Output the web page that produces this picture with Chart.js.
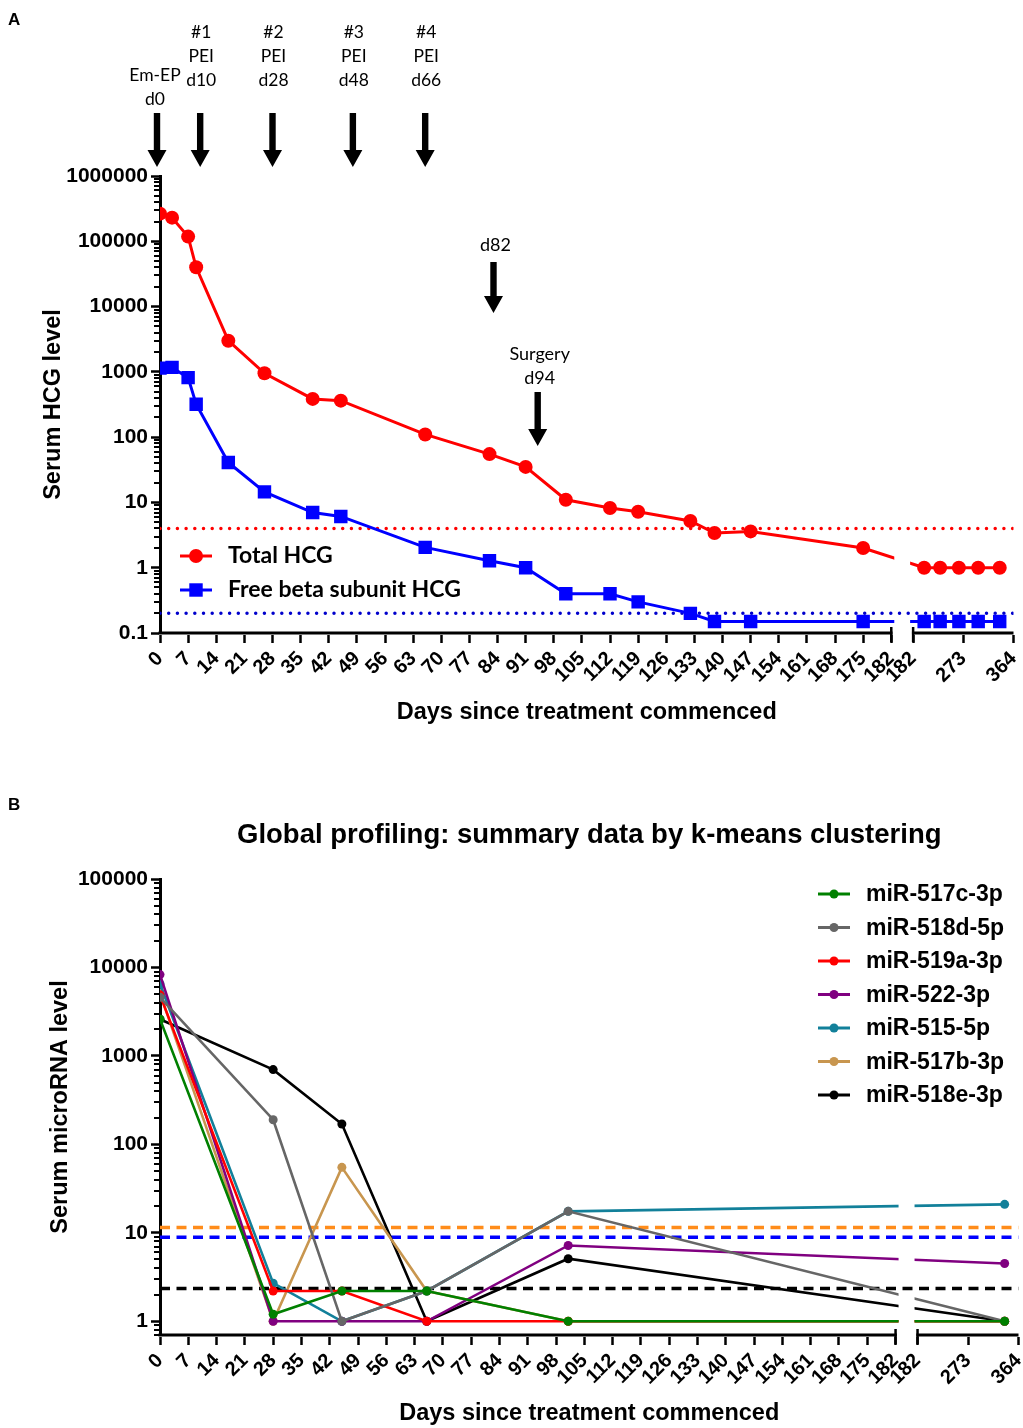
<!DOCTYPE html>
<html><head><meta charset="utf-8">
<script src="https://cdn.jsdelivr.net/npm/chart.js@4.4.1/dist/chart.umd.min.js"></script>
<style>
html,body{margin:0;padding:0;background:#fff;}
#wrap{position:relative;width:1023px;height:1428px;overflow:hidden;background:#fff;}
canvas{position:absolute;left:0;}
#cA{top:0;} #cB{top:740px;}
</style></head><body>
<div id="wrap"><canvas id="cA" width="1023" height="740"></canvas><canvas id="cB" width="1023" height="688"></canvas></div>
<script>
// ---------- DATA ----------
const daysA = [0, 3, 7, 9, 17, 26, 38, 45, 66, 82, 91, 101, 112, 119, 132, 138, 147, 175, 202, 231, 265, 300, 339];
const totalHCG = [265000, 230000, 118000, 40000, 3000, 950, 385, 362, 110, 55, 35, 11, 8.2, 7.2, 5.2, 3.4, 3.6, 2.0, 1, 1, 1, 1, 1];
const freeBetaHCG = [1140, 1170, 815, 320, 41, 14.5, 7.0, 6.1, 2.05, 1.28, 1.0, 0.4, 0.4, 0.3, 0.2, 0.15, 0.15, 0.15, 0.15, 0.15, 0.15, 0.15, 0.15];
const seriesNamesA = ['Total HCG', 'Free beta subunit HCG'];
const thresholdsA = [4, 0.2];

const topEventDays = [0, 10, 28, 48, 66];
const topEventLabels = [['Em-EP', 'd0'], ['#1', 'PEI', 'd10'], ['#2', 'PEI', 'd28'], ['#3', 'PEI', 'd48'], ['#4', 'PEI', 'd66']];
const innerEventDays = [83, 94];
const innerEventLabels = [['d82'], ['Surgery', 'd94']];

const daysB = [0, 28, 45, 66, 101, 339];
const seriesNamesB = ['miR-517c-3p', 'miR-518d-5p', 'miR-519a-3p', 'miR-522-3p', 'miR-515-5p', 'miR-517b-3p', 'miR-518e-3p'];
const mir517c3p = [2600, 1.2, 2.2, 2.2, 1, 1];
const mir518d5p = [4600, 190, 1, 2.2, 17.5, 1];
const mir519a3p = [4900, 2.2, 2.2, 1, 1, 1];
const mir5223p  = [8300, 1, 1, 1, 7.2, 4.5];
const mir5155p  = [6500, 2.7, 1, 2.2, 17.5, 21];
const mir517b3p = [5100, 1, 55, 2.2, 1, 1];
const mir518e3p = [2600, 700, 170, 1, 5.1, 1];
const thresholdsB = [11.5, 8.9, 2.35];

const xTicksSeg1 = [0, 7, 14, 21, 28, 35, 42, 49, 56, 63, 70, 77, 84, 91, 98, 105, 112, 119, 126, 133, 140, 147, 154, 161, 168, 175, 182];
const xTicksSeg2 = [182, 273, 364];
const xBreakAt = 182;
const yTicksA = [0.1, 1, 10, 100, 1000, 10000, 100000, 1000000];
const yTicksB = [1, 10, 100, 1000, 10000, 100000];

// ---------- STYLE / LAYOUT ----------
const SEG1_END = 0.8568, SEG2_START = 0.8824, GAP_PAD = 3;
const SANS = "'Liberation Sans', Arial, sans-serif";
const HUMAN = "Lato, 'Open Sans', sans-serif";
Chart.defaults.font.family = SANS;
Chart.defaults.color = '#000';

class BrokenLinearScale extends Chart.LinearScale {
  buildTicks() {
    const t = xTicksSeg1.map(v => ({value: v}));
    xTicksSeg2.forEach(v => t.push({value: v, seg2: true}));
    return t;
  }
  _px(value, seg2) {
    if (!seg2 && value <= xBreakAt) {
      return this.left + this.width * SEG1_END * (value - this.min) / (xBreakAt - this.min);
    }
    return this.left + this.width * (SEG2_START + (1 - SEG2_START) * (value - xBreakAt) / (this.max - xBreakAt));
  }
  getPixelForValue(value) { return this._px(value, false); }
  getPixelForTick(index) { const t = this.ticks[index]; return t ? this._px(t.value, !!t.seg2) : this.left; }
  getValueForPixel(px) {
    const f = (px - this.left) / this.width;
    if (f <= SEG1_END) return this.min + f / SEG1_END * (xBreakAt - this.min);
    return xBreakAt + (f - SEG2_START) / (1 - SEG2_START) * (this.max - xBreakAt);
  }
  drawBorder() {
    const ctx = this.ctx;
    const y = this.top;
    const x0 = this.left - 1.5, x1 = this.left + this.width * SEG1_END, x2 = this.left + this.width * SEG2_START, x3 = this.right;
    ctx.save();
    ctx.strokeStyle = '#000';
    ctx.lineWidth = 3;
    ctx.beginPath();
    ctx.moveTo(x0, y); ctx.lineTo(x1 + 1.2, y);
    ctx.moveTo(x2 - 1.2, y); ctx.lineTo(x3, y);
    ctx.stroke();
    ctx.lineWidth = 2.5;
    ctx.beginPath();
    ctx.moveTo(x1, y - 6); ctx.lineTo(x1, y + 9);
    ctx.moveTo(x2, y - 6); ctx.lineTo(x2, y + 9);
    ctx.stroke();
    ctx.restore();
  }
}
BrokenLinearScale.id = 'brokenLinear';
BrokenLinearScale.defaults = {};
Chart.register(BrokenLinearScale);

const pts = (xs, ys) => xs.map((x, i) => ({x: x, y: ys[i]}));

const gapClipPlugin = {
  id: 'gapClip',
  beforeDatasetDraw(chart, args) {
    const ds = chart.data.datasets[args.index];
    if (!ds.gapClip) return;
    const xs = chart.scales.x, ctx = chart.ctx;
    const g0 = xs.left + xs.width * SEG1_END + GAP_PAD;
    const g1 = xs.left + xs.width * SEG2_START - GAP_PAD;
    ctx.save();
    ctx.beginPath();
    ctx.rect(0, 0, g0, chart.height);
    ctx.rect(g1, 0, chart.width - g1, chart.height);
    ctx.clip();
  },
  afterDatasetDraw(chart, args) {
    if (chart.data.datasets[args.index].gapClip) chart.ctx.restore();
  }
};

const minorTicksPlugin = {
  id: 'minorTicks',
  afterDraw(chart) {
    const ys = chart.scales.y, ctx = chart.ctx;
    const x = ys.right;
    ctx.save();
    ctx.strokeStyle = '#000';
    ctx.lineWidth = 2;
    ctx.beginPath();
    for (let e = Math.floor(Math.log10(ys.min)); e < Math.log10(ys.max); e++) {
      for (let k = 2; k <= 9; k++) {
        const v = k * Math.pow(10, e);
        if (v < ys.min || v > ys.max) continue;
        const p = Math.round(ys.getPixelForValue(v));
        ctx.moveTo(x - 6, p); ctx.lineTo(x - 1, p);
      }
    }
    ctx.stroke();
    ctx.restore();
  }
};

function drawArrow(ctx, x, yTop, yTip) {
  const headLen = 17, headHalf = 9.5, shaftHalf = 3.2;
  ctx.beginPath();
  ctx.rect(x - shaftHalf, yTop, shaftHalf * 2, yTip - headLen - yTop + 1);
  ctx.moveTo(x - headHalf, yTip - headLen);
  ctx.lineTo(x + headHalf, yTip - headLen);
  ctx.lineTo(x, yTip);
  ctx.closePath();
  ctx.fill();
}

function xScaleOpts(height, titlePadBottom) {
  return {
    type: 'brokenLinear', position: 'bottom', min: 0, max: 364,
    grid: {drawOnChartArea: false, drawTicks: true, tickLength: 10, tickWidth: 2.5, tickColor: '#000'},
    border: {display: true, width: 3, color: '#000'},
    ticks: {autoSkip: false, maxRotation: 45, minRotation: 45, padding: 4, color: '#000',
            font: {size: 20, weight: 'bold'}, callback: (v) => String(v)},
    title: {display: true, text: 'Days since treatment commenced', color: '#000',
            font: {size: 23.5, weight: 'bold'}, padding: {top: 0, bottom: titlePadBottom}},
    afterFit: (s) => { s.height = height; s.paddingLeft = 0; s.paddingRight = 0; }
  };
}
function yScaleOpts(min, max, tickVals, title, titleSize, titlePadTop) {
  return {
    type: 'logarithmic', position: 'left', min: min, max: max,
    afterBuildTicks: (s) => { s.ticks = tickVals.map(v => ({value: v, major: true})); },
    grid: {drawOnChartArea: false, drawTicks: true, tickLength: 9, tickWidth: 2.5, tickColor: '#000'},
    border: {display: true, width: 3, color: '#000'},
    ticks: {autoSkip: false, padding: 3, color: '#000', font: {size: 21, weight: 'bold'}, callback: (v) => String(v)},
    title: {display: true, text: title, color: '#000', font: {size: titleSize, weight: 'bold'}, padding: {top: titlePadTop, bottom: 0}},
    afterFit: (s) => { s.width = 160; }
  };
}

// ---------- PANEL A ----------
const colA = ['#ff0000', '#0000ff'];
const styleA = ['circle', 'rect'];
const radiusA = [7, 9.5];
const annotAPlugin = {
  id: 'annotA',
  afterDraw(chart) {
    const ctx = chart.ctx, xs = chart.scales.x;
    ctx.save();
    ctx.fillStyle = '#000';
    ctx.font = "bold 17px " + SANS;
    ctx.textAlign = 'left'; ctx.textBaseline = 'middle';
    ctx.fillText('A', 8, 20);
    ctx.font = "17.5px " + HUMAN;
    ctx.textAlign = 'center';
    const topTextBottom = [99, 80, 80, 80, 80];
    topEventDays.forEach((d, i) => {
      const x = xs.getPixelForValue(d);
      const lines = topEventLabels[i];
      lines.forEach((t, j) => ctx.fillText(t, x + (i === 0 ? -5 : 1), topTextBottom[i] - (lines.length - 1 - j) * 24));
      drawArrow(ctx, x - (i === 0 ? 3 : 0), 113, 167);
    });
    ctx.font = "18px " + HUMAN;
    const innerText = [245, 378], innerTop = [262, 392], innerTip = [313, 446];
    innerEventDays.forEach((d, i) => {
      const x = xs.getPixelForValue(d);
      const lines = innerEventLabels[i];
      lines.forEach((t, j) => ctx.fillText(t, x + 2, innerText[i] - (lines.length - 1 - j) * 24));
      drawArrow(ctx, x, innerTop[i], innerTip[i]);
    });
    // legend
    ctx.font = "bold 23px " + HUMAN;
    ctx.textAlign = 'left';
    seriesNamesA.forEach((name, i) => {
      const y = 556 + i * 34;
      ctx.strokeStyle = colA[i]; ctx.lineWidth = 3;
      ctx.beginPath(); ctx.moveTo(180, y); ctx.lineTo(212, y); ctx.stroke();
      ctx.fillStyle = colA[i];
      Chart.helpers.drawPoint(ctx, {pointStyle: styleA[i], radius: radiusA[i], rotation: 0, borderWidth: 0}, 196, y);
      ctx.fillStyle = '#000';
      ctx.fillText(name, 228, y);
    });
    ctx.restore();
  }
};

new Chart(document.getElementById('cA'), {
  type: 'line',
  data: {
    datasets: [
      {label: seriesNamesA[0], data: pts(daysA, totalHCG), borderColor: colA[0], backgroundColor: colA[0],
       borderWidth: 3, pointStyle: styleA[0], pointRadius: radiusA[0], pointBorderWidth: 0, gapClip: true},
      {label: seriesNamesA[1], data: pts(daysA, freeBetaHCG), borderColor: colA[1], backgroundColor: colA[1],
       borderWidth: 3, pointStyle: styleA[1], pointRadius: radiusA[1], pointBorderWidth: 0, gapClip: true},
      {label: 'ref total', data: pts([0, 364], [thresholdsA[0], thresholdsA[0]]), borderColor: colA[0],
       borderWidth: 3.5, borderDash: [0, 8.7], borderCapStyle: 'round', pointRadius: 0},
      {label: 'ref free', data: pts([0, 364], [thresholdsA[1], thresholdsA[1]]), borderColor: '#0000cc',
       borderWidth: 3.5, borderDash: [0, 8.7], borderCapStyle: 'round', pointRadius: 0}
    ]
  },
  options: {
    responsive: false, animation: false, events: [],
    layout: {padding: {top: 176, left: 0, right: 4, bottom: 0}},
    plugins: {legend: {display: false}, tooltip: {enabled: false}, title: {display: false}},
    scales: {
      x: xScaleOpts(107, 13),
      y: yScaleOpts(0.1, 1000000, yTicksA, 'Serum HCG level', 23.5, 39)
    }
  },
  plugins: [gapClipPlugin, minorTicksPlugin, annotAPlugin]
});

// ---------- PANEL B ----------
const colB = ['#008000', '#666666', '#ff0000', '#800080', '#12809a', '#c8964f', '#000000'];
const valuesB = [mir517c3p, mir518d5p, mir519a3p, mir5223p, mir5155p, mir517b3p, mir518e3p];
const refColB = ['#ff8c1a', '#0000ff', '#000000'];

const annotBPlugin = {
  id: 'annotB',
  afterDraw(chart) {
    const ctx = chart.ctx, ca = chart.chartArea;
    ctx.save();
    ctx.fillStyle = '#000';
    ctx.font = "bold 17px " + SANS;
    ctx.textAlign = 'left'; ctx.textBaseline = 'middle';
    ctx.fillText('B', 8, 65);
    ctx.font = "bold 27.5px " + SANS;
    ctx.textAlign = 'center';
    ctx.fillText('Global profiling: summary data by k-means clustering', (ca.left + ca.right) / 2, 95);
    ctx.font = "bold 23px " + SANS;
    ctx.textAlign = 'left';
    seriesNamesB.forEach((name, i) => {
      const y = 154 + i * 33.5;
      ctx.strokeStyle = colB[i]; ctx.lineWidth = 3;
      ctx.beginPath(); ctx.moveTo(818, y); ctx.lineTo(850, y); ctx.stroke();
      ctx.fillStyle = colB[i];
      Chart.helpers.drawPoint(ctx, {pointStyle: 'circle', radius: 4.5, rotation: 0, borderWidth: 0}, 834, y);
      ctx.fillStyle = '#000';
      ctx.fillText(name, 866, y + 1);
    });
    ctx.restore();
  }
};

const dsB = seriesNamesB.map((name, i) => ({
  label: name, data: pts(daysB, valuesB[i]), borderColor: colB[i], backgroundColor: colB[i],
  borderWidth: 2.6, pointStyle: 'circle', pointRadius: 4.5, pointBorderWidth: 0, gapClip: true
}));
thresholdsB.forEach((v, i) => dsB.push({
  label: 'ref' + i, data: pts([0, 364], [v, v]), borderColor: refColB[i],
  borderWidth: 3.5, borderDash: [10, 6.5], pointRadius: 0
}));

new Chart(document.getElementById('cB'), {
  type: 'line',
  data: {datasets: dsB},
  options: {
    responsive: false, animation: false, events: [],
    layout: {padding: {top: 139, left: 0, right: 4, bottom: 0}},
    plugins: {legend: {display: false}, tooltip: {enabled: false}, title: {display: false}},
    scales: {
      x: xScaleOpts(93, 0),
      y: yScaleOpts(0.72, 100000, yTicksB, 'Serum microRNA level', 23.5, 46)
    }
  },
  plugins: [gapClipPlugin, minorTicksPlugin, annotBPlugin]
});
</script></body></html>
